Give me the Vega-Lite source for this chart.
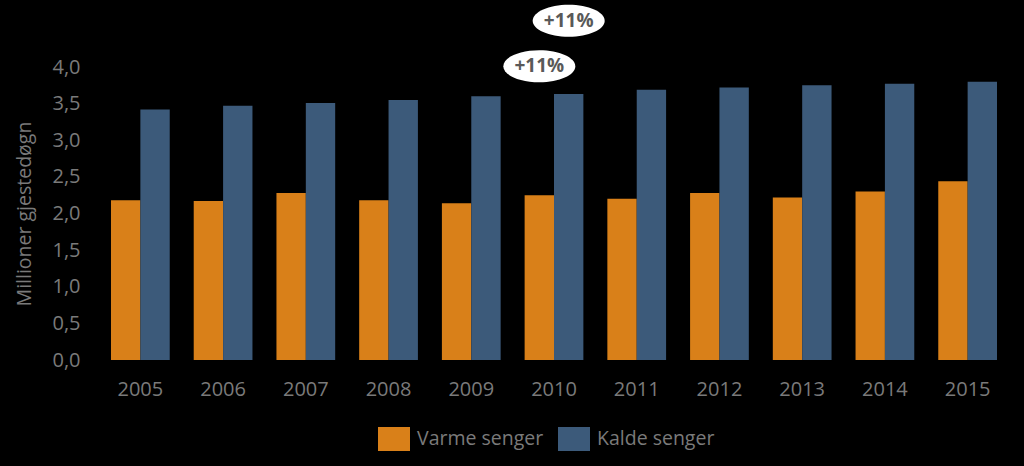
{
  "$schema": "https://vega.github.io/schema/vega-lite/v6.json",
  "autosize": {"type": "none"},
  "padding": {"left": 99, "top": 67, "right": 15, "bottom": 106},
  "width": 910,
  "height": 293,
  "background": "#000000",
  "config": {
    "view": {"stroke": null},
    "font": "Open Sans",
    "axis": {"labelFont": "Open Sans", "titleFont": "Open Sans"}
  },
  "datasets": {
    "bars": [
      {"year": "2005", "series": "Varme senger", "value": 2.18},
      {"year": "2005", "series": "Kalde senger", "value": 3.42},
      {"year": "2006", "series": "Varme senger", "value": 2.17},
      {"year": "2006", "series": "Kalde senger", "value": 3.47},
      {"year": "2007", "series": "Varme senger", "value": 2.28},
      {"year": "2007", "series": "Kalde senger", "value": 3.51},
      {"year": "2008", "series": "Varme senger", "value": 2.18},
      {"year": "2008", "series": "Kalde senger", "value": 3.55},
      {"year": "2009", "series": "Varme senger", "value": 2.14},
      {"year": "2009", "series": "Kalde senger", "value": 3.6},
      {"year": "2010", "series": "Varme senger", "value": 2.25},
      {"year": "2010", "series": "Kalde senger", "value": 3.63},
      {"year": "2011", "series": "Varme senger", "value": 2.2},
      {"year": "2011", "series": "Kalde senger", "value": 3.69},
      {"year": "2012", "series": "Varme senger", "value": 2.28},
      {"year": "2012", "series": "Kalde senger", "value": 3.72},
      {"year": "2013", "series": "Varme senger", "value": 2.22},
      {"year": "2013", "series": "Kalde senger", "value": 3.75},
      {"year": "2014", "series": "Varme senger", "value": 2.3},
      {"year": "2014", "series": "Kalde senger", "value": 3.77},
      {"year": "2015", "series": "Varme senger", "value": 2.44},
      {"year": "2015", "series": "Kalde senger", "value": 3.8}
    ],
    "callouts": [
      {"year": "2010", "series": "Varme senger", "value": 4.01, "label": "+11%"},
      {"year": "2010", "series": "Kalde senger", "value": 4.63, "label": "+11%"}
    ]
  },
  "encoding": {
    "x": {
      "field": "year",
      "type": "nominal",
      "scale": {"paddingInner": 0.29, "paddingOuter": 0.145},
      "axis": {
        "title": null,
        "labelAngle": 0,
        "labelColor": "#7a7a7a",
        "labelFontSize": 20,
        "labelPadding": 19,
        "ticks": false,
        "domain": false,
        "grid": false
      }
    },
    "xOffset": {
      "field": "series",
      "type": "nominal",
      "sort": ["Varme senger", "Kalde senger"],
      "scale": {"paddingInner": 0, "paddingOuter": 0}
    },
    "y": {
      "field": "value",
      "type": "quantitative",
      "scale": {"domain": [0, 4], "nice": false, "zero": true},
      "axis": {
        "title": "Millioner gjestedøgn",
        "titleColor": "#7a7a7a",
        "titleFontSize": 19.5,
        "titleFontWeight": "normal",
        "titlePadding": 17,
        "labelColor": "#7a7a7a",
        "labelFontSize": 20,
        "labelPadding": 19,
        "values": [0, 0.5, 1, 1.5, 2, 2.5, 3, 3.5, 4],
        "format": ".1f",
        "labelExpr": "replace(datum.label, '.', ',')",
        "ticks": false,
        "domain": false,
        "grid": false
      }
    }
  },
  "layer": [
    {
      "data": {"name": "bars"},
      "mark": {"type": "bar"},
      "encoding": {
        "color": {
          "field": "series",
          "type": "nominal",
          "sort": ["Varme senger", "Kalde senger"],
          "scale": {"domain": ["Varme senger", "Kalde senger"], "range": ["#d98019", "#3c5a7a"]},
          "legend": {
            "title": null,
            "orient": "none",
            "direction": "horizontal",
            "legendX": 279,
            "legendY": 356,
            "padding": 0,
            "symbolType": "M-1,-0.75H1V0.75H-1Z",
            "symbolSize": 1024,
            "symbolStrokeWidth": 0,
            "symbolOpacity": 1,
            "labelColor": "#7a7a7a",
            "labelFontSize": 19.5,
            "labelOffset": 7,
            "columnPadding": 14,
            "labelLimit": 300
          }
        }
      }
    },
    {
      "data": {"name": "callouts"},
      "mark": {
        "type": "point",
        "filled": true,
        "fill": "#ffffff",
        "opacity": 1,
        "strokeWidth": 0,
        "shape": "M-1,0A1,0.445,0,1,1,1,0A1,0.445,0,1,1,-1,0Z",
        "size": 5184
      },
      "encoding": {}
    },
    {
      "data": {"name": "callouts"},
      "mark": {
        "type": "text",
        "fontSize": 19,
        "fontWeight": "bold",
        "color": "#595959",
        "baseline": "middle",
        "align": "center"
      },
      "encoding": {
        "text": {"field": "label", "type": "nominal"}
      }
    }
  ]
}
